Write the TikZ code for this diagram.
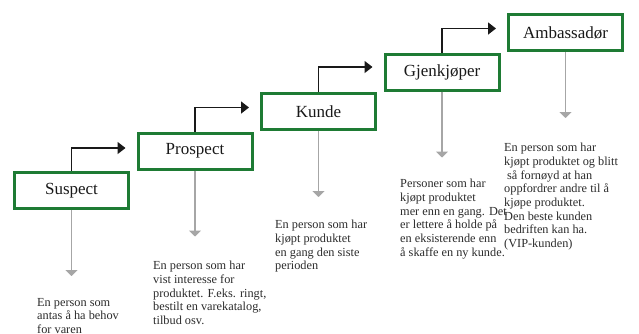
\documentclass[tikz,border=0pt]{standalone}
\usepackage{fontspec}
\setmainfont{Liberation Serif}
\usetikzlibrary{arrows.meta}
\definecolor{boxgreen}{HTML}{1E7B34}
\definecolor{arrgrey}{HTML}{A6A6A6}
\definecolor{txtgrey}{HTML}{2B2B2B}
\begin{document}
\begin{tikzpicture}[x=1pt,y=-1pt,
  stagebox/.style={draw=boxgreen, line width=3pt, minimum width=114pt, minimum height=36pt, inner sep=0pt, font=\fontsize{17}{20}\selectfont, text=black!90},
  uparrow/.style={draw=black!90, line width=1.5pt, -{Triangle[length=8pt,width=12pt]}},
  downarrow/.style={draw=arrgrey, line width=1.3pt, -{Triangle[length=6pt,width=12pt]}},
  desc/.style={anchor=north west, inner sep=0pt, align=left, text=txtgrey, font=\fontsize{12.3}{13.7}\selectfont}
]
\useasboundingbox (0,0) rectangle (639,333);
\node[stagebox] (s1) at (71.5,190.5) {Suspect};
\node[stagebox] (s2) at (195,151) {Prospect};
\node[stagebox] (s3) at (318.5,111.5) {Kunde};
\node[stagebox] (s4) at (442,72) {Gjenkjøper};
\node[stagebox] (s5) at (565.5,32.5) {Ambassadør};

\draw[uparrow] (s1.north) |- ([xshift=-11pt,yshift=3pt]s2.west);
\draw[uparrow] (s2.north) |- ([xshift=-11pt,yshift=4pt]s3.west);
\draw[uparrow] (s3.north) |- ([xshift=-11pt,yshift=5pt]s4.west);
\draw[uparrow] (s4.north) |- ([xshift=-11pt,yshift=4pt]s5.west);

\coordinate (e1) at ([yshift=-66pt]s1.south);
\coordinate (e2) at ([yshift=-66pt]s2.south);
\coordinate (e3) at ([yshift=-66pt]s3.south);
\coordinate (e4) at ([yshift=-66pt]s4.south);
\coordinate (e5) at ([yshift=-66pt]s5.south);
\draw[downarrow] (s1.south) -- (e1);
\draw[downarrow] (s2.south) -- (e2);
\draw[downarrow] (s3.south) -- (e3);
\draw[downarrow] (s4.south) -- (e4);
\draw[downarrow] (s5.south) -- (e5);

\node[desc] (t1) at (37,298) {En person som\\antas å ha behov\\for varen};
\node[desc] (t2) at (153,261) {En person som har\\vist interesse for\\produktet. F.eks. ringt,\\bestilt en varekatalog,\\tilbud osv.};
\node[desc] (t3) at (275,220) {En person som har\\kjøpt produktet\\en gang den siste\\perioden};
\node[desc] (t4) at (400,179) {Personer som har\\kjøpt produktet\\mer enn en gang. Det\\er lettere å holde på\\en eksisterende enn\\å skaffe en ny kunde.};
\node[desc] (t5) at (504,143) {En person som har\\kjøpt produktet og blitt\\\hspace*{3pt}så fornøyd at han\\oppfordrer andre til å\\kjøpe produktet.\\Den beste kunden\\bedriften kan ha.\\(VIP-kunden)};
\end{tikzpicture}
\end{document}
